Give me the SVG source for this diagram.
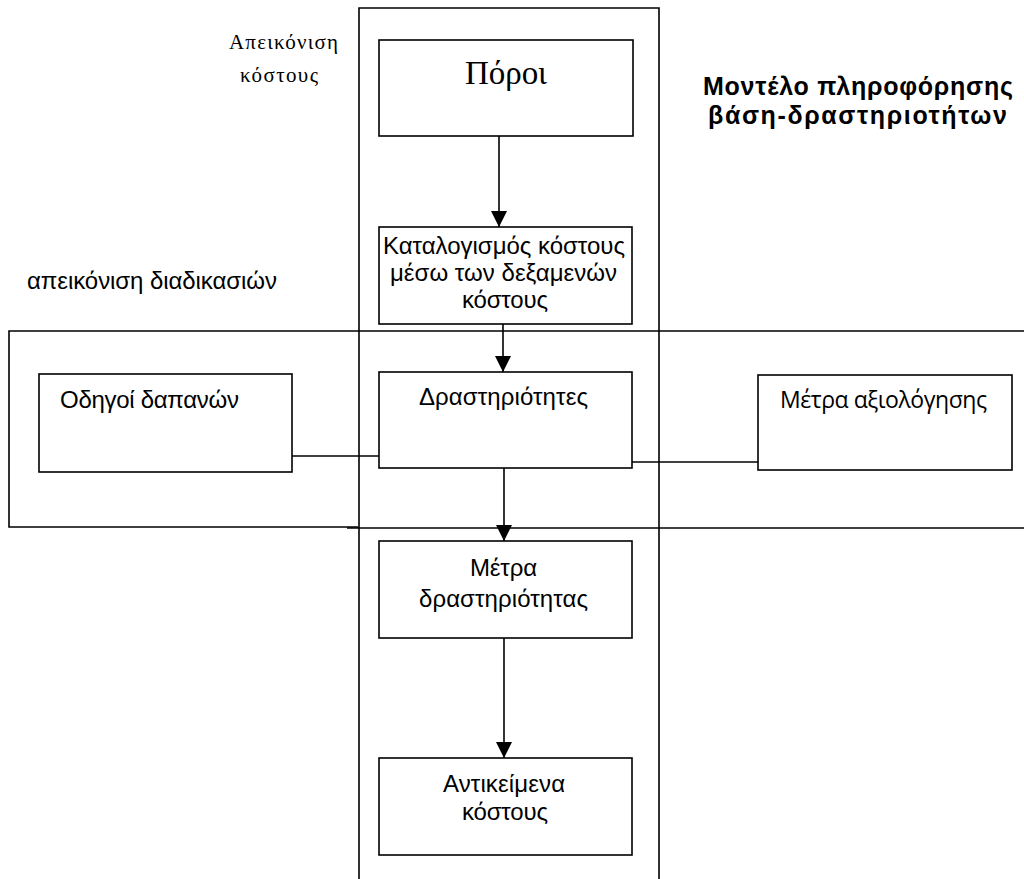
<svg xmlns="http://www.w3.org/2000/svg" width="1024" height="879" viewBox="0 0 1024 879">
  <style>
    .frame { fill: none; stroke: #000; stroke-width: 1.6; }
    .box { fill: #fff; stroke: #000; stroke-width: 1.6; }
    .wire { fill: none; stroke: #000; stroke-width: 1.6; }
    .sans { font-family: "Liberation Sans", Arial, sans-serif; font-size: 24px; fill: #000; }
    .alt { font-family: "Open Sans", "DejaVu Sans", sans-serif; font-size: 23px; fill: #000; }
    .serif { font-family: "Liberation Serif", "Times New Roman", serif; fill: #000; }
    .title { font-family: "Liberation Sans", Arial, sans-serif; font-size: 25px; font-weight: bold; fill: #000; }
  </style>
  <defs>
    <marker id="arrow" markerUnits="userSpaceOnUse" markerWidth="16" markerHeight="16" viewBox="0 0 16 16" refX="16" refY="8" orient="auto">
      <path d="M0,0 L16,8 L0,16 Z" fill="#000"/>
    </marker>
  </defs>
  <rect width="1024" height="879" fill="#fff"/>

  <!-- swimlane frames -->
  <g id="lanes">
    <path class="frame" d="M359,880 L359,8 L659,8 L659,880"/>
    <path class="frame" d="M1025,331 L9,331 L9,527 L358,527"/>
    <path class="frame" d="M347,528 L1025,528"/>
  </g>

  <!-- lane captions -->
  <g id="captions">
    <text class="serif" font-size="21" x="229" y="49" textLength="109" lengthAdjust="spacing">Απεικόνιση</text>
    <text class="serif" font-size="21" x="240" y="82" textLength="78" lengthAdjust="spacing">κόστους</text>
    <text class="sans" x="27" y="289" textLength="250" lengthAdjust="spacing">απεικόνιση διαδικασιών</text>
    <text class="title" x="703" y="95" textLength="310" lengthAdjust="spacing">Μοντέλο πληροφόρησης</text>
    <text class="title" x="708" y="124" textLength="299" lengthAdjust="spacing">βάση-δραστηριοτήτων</text>
  </g>

  <!-- connectors -->
  <g id="connectors">
    <line class="wire" x1="499" y1="136" x2="499" y2="227" marker-end="url(#arrow)"/>
    <line class="wire" x1="503" y1="324" x2="503" y2="372" marker-end="url(#arrow)"/>
    <line class="wire" x1="504" y1="468" x2="504" y2="541" marker-end="url(#arrow)"/>
    <line class="wire" x1="504" y1="638" x2="504" y2="758" marker-end="url(#arrow)"/>
    <line class="wire" x1="292" y1="456" x2="379" y2="456"/>
    <line class="wire" x1="632" y1="462" x2="758" y2="462"/>
  </g>

  <g id="resources">
    <rect class="box" x="379" y="40" width="254" height="96"/>
    <text class="serif" font-size="33" x="465" y="84" textLength="82" lengthAdjust="spacing">Πόροι</text>
  </g>

  <g id="cost-allocation">
    <rect class="box" x="379" y="227" width="253" height="97"/>
    <text class="sans" x="383" y="254" textLength="242" lengthAdjust="spacing">Καταλογισμός κόστους</text>
    <text class="sans" x="390" y="281" textLength="227" lengthAdjust="spacing">μέσω των δεξαμενών</text>
    <text class="sans" x="462" y="308" textLength="86" lengthAdjust="spacing">κόστους</text>
  </g>

  <g id="cost-drivers">
    <rect class="box" x="39" y="374" width="253" height="98"/>
    <text class="sans" x="60" y="408" textLength="179" lengthAdjust="spacing">Οδηγοί δαπανών</text>
  </g>

  <g id="activities">
    <rect class="box" x="379" y="372" width="253" height="96"/>
    <text class="sans" x="419" y="405" textLength="169" lengthAdjust="spacing">Δραστηριότητες</text>
  </g>

  <g id="performance-measures">
    <rect class="box" x="758" y="375" width="254" height="95"/>
    <text class="alt" x="780" y="408" textLength="207" lengthAdjust="spacing">Μέτρα αξιολόγησης</text>
  </g>

  <g id="activity-measures">
    <rect class="box" x="379" y="541" width="253" height="97"/>
    <text class="sans" x="470" y="576" textLength="67" lengthAdjust="spacing">Μέτρα</text>
    <text class="sans" x="419" y="607" textLength="169" lengthAdjust="spacing">δραστηριότητας</text>
  </g>

  <g id="cost-objects">
    <rect class="box" x="379" y="758" width="253" height="97"/>
    <text class="sans" x="443" y="792" textLength="122" lengthAdjust="spacing">Αντικείμενα</text>
    <text class="sans" x="462" y="820" textLength="86" lengthAdjust="spacing">κόστους</text>
  </g>
</svg>
